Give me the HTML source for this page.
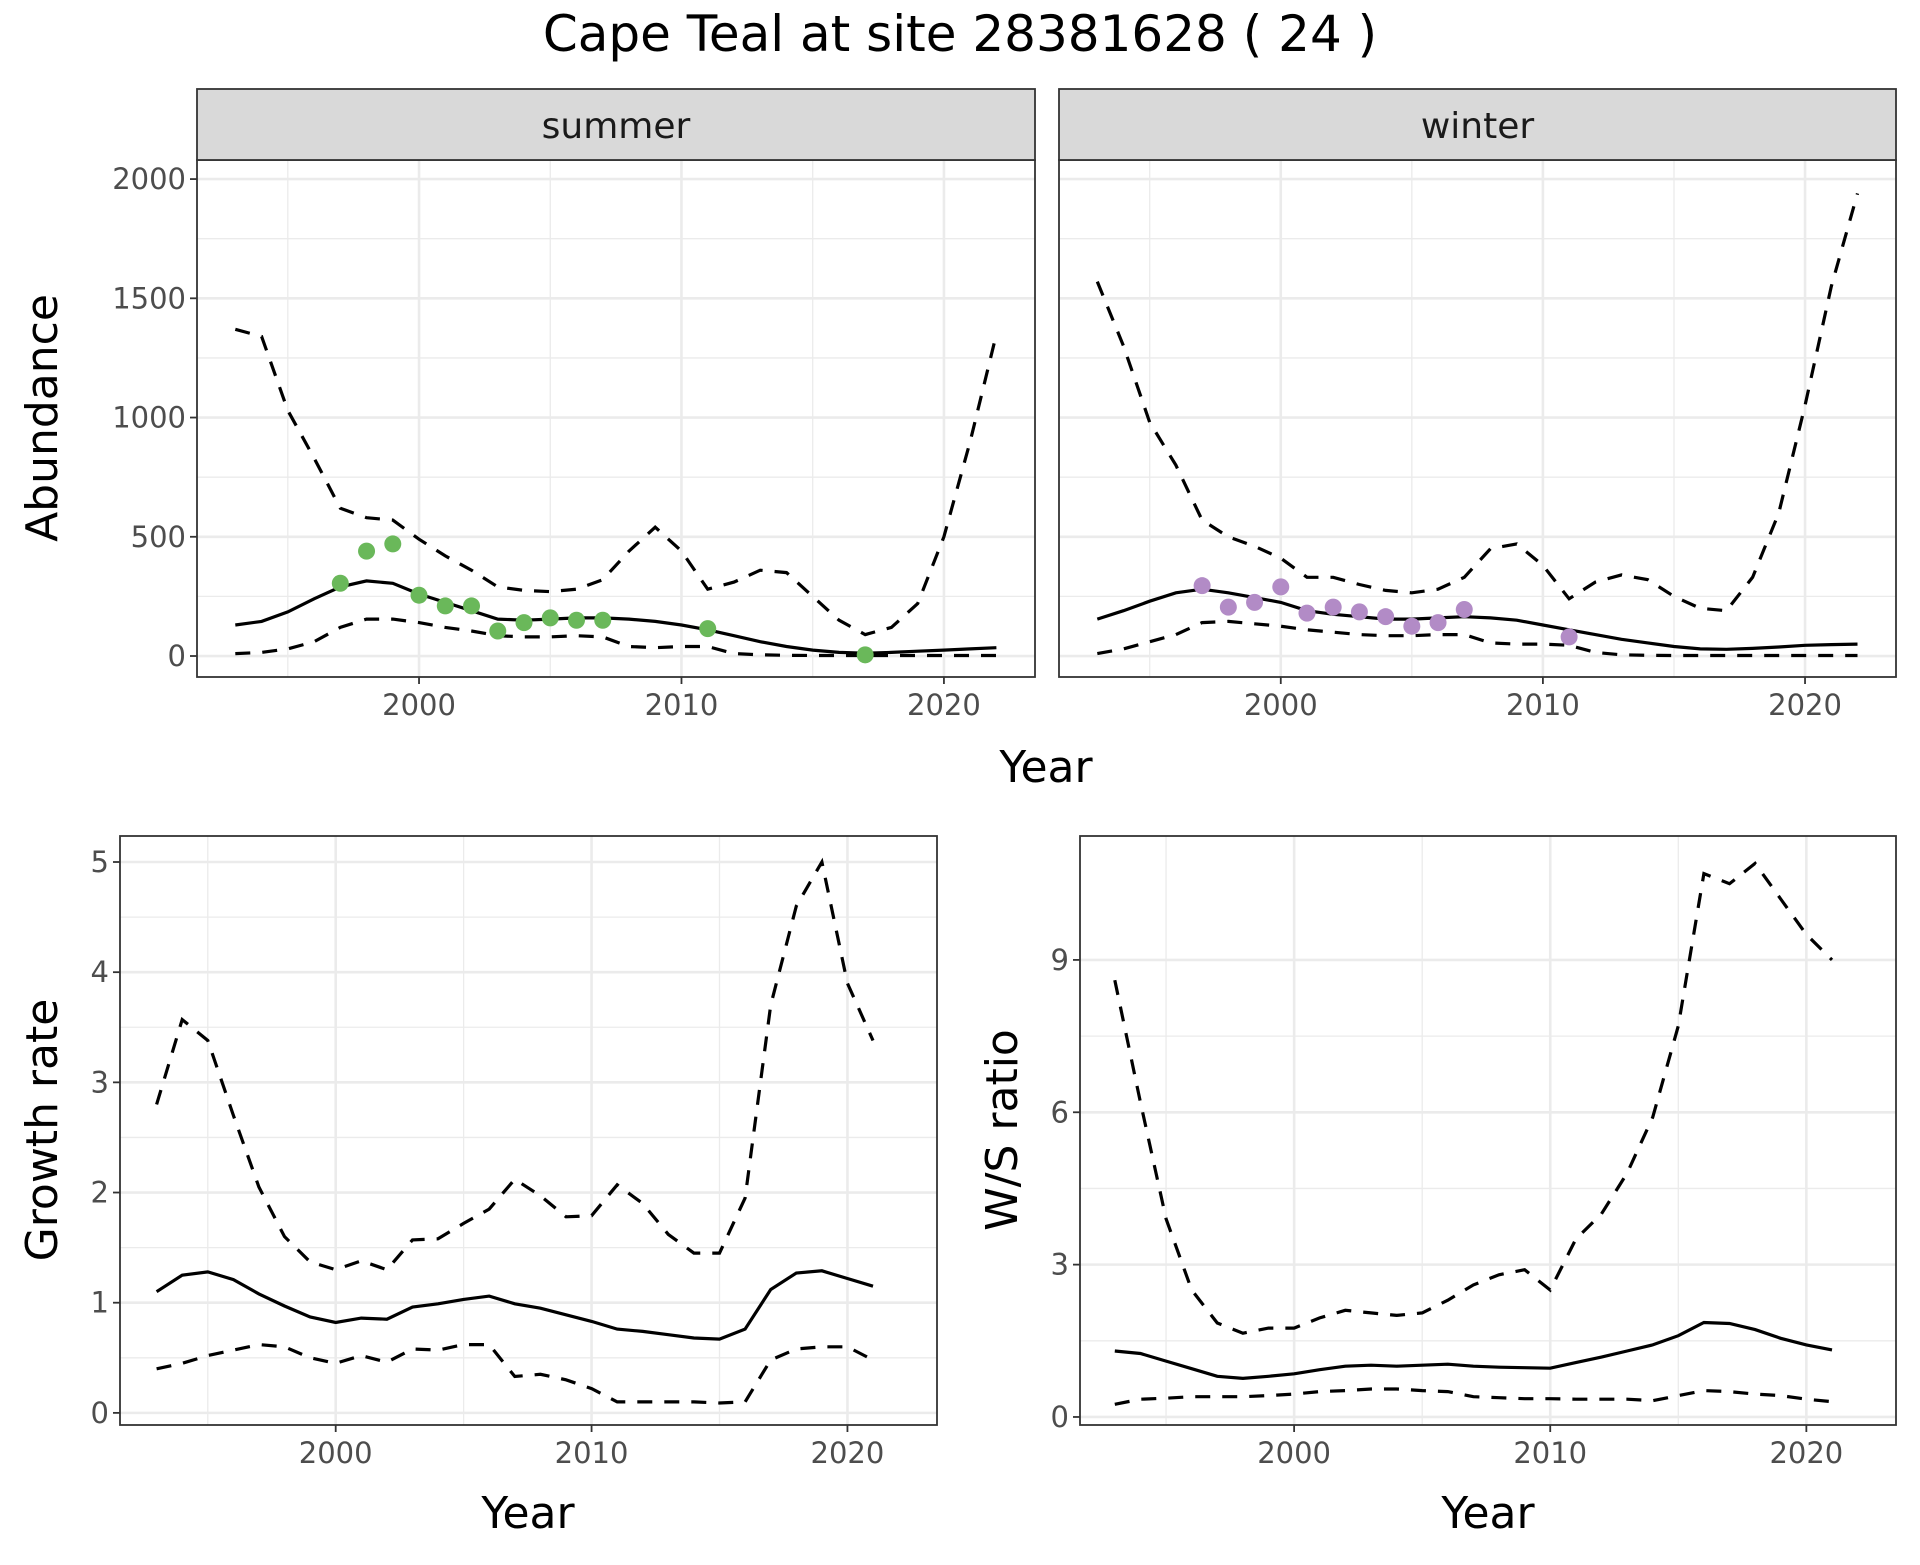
<!DOCTYPE html>
<html><head><meta charset="utf-8"><style>
body{margin:0;background:#fff;}
svg text{font-family:"DejaVu Sans","Liberation Sans",sans-serif;}
</style></head><body>
<svg id="chart" width="1920" height="1560" xmlns="http://www.w3.org/2000/svg">
<rect width="1920" height="1560" fill="#fff"/>
<text x="960" y="51" font-size="50" text-anchor="middle" fill="#000">Cape Teal at site 28381628 ( 24 )</text>
</svg>
<script>
const yearsA=[1993,1994,1995,1996,1997,1998,1999,2000,2001,2002,2003,2004,2005,2006,2007,2008,2009,2010,2011,2012,2013,2014,2015,2016,2017,2018,2019,2020,2021,2022];
const sumMean=[130,145,185,240,290,315,305,260,225,190,155,150,155,160,160,155,145,130,110,85,60,40,25,15,12,15,20,25,30,35];
const sumUpper=[1370,1340,1030,830,620,580,570,490,420,360,290,275,270,280,320,440,540,440,280,310,360,350,250,150,90,120,220,500,900,1350];
const sumLower=[10,15,30,60,120,155,155,140,120,105,85,80,80,85,80,40,35,40,40,10,5,3,2,2,2,2,2,2,2,2];
const sumPtYears=[1997,1998,1999,2000,2001,2002,2003,2004,2005,2006,2007,2011,2017];
const sumPtVals=[305,440,470,255,210,210,105,140,160,150,150,115,5];
const winMean=[155,190,230,265,280,265,245,225,190,175,165,155,155,160,165,160,150,130,110,90,70,55,40,30,28,32,38,45,48,50];
const winUpper=[1570,1300,980,800,570,500,460,410,330,330,300,275,265,280,330,450,470,380,240,310,340,320,250,200,190,330,600,1050,1550,1940];
const winLower=[10,30,60,90,140,145,135,125,110,100,90,85,85,90,90,55,50,50,45,15,5,3,2,2,2,2,2,2,2,2];
const winPtYears=[1997,1998,1999,2000,2001,2002,2003,2004,2005,2006,2007,2011];
const winPtVals=[295,205,225,290,180,205,185,165,125,140,195,80];
const yearsB=[1993,1994,1995,1996,1997,1998,1999,2000,2001,2002,2003,2004,2005,2006,2007,2008,2009,2010,2011,2012,2013,2014,2015,2016,2017,2018,2019,2020,2021];
const grMean=[1.1,1.25,1.28,1.21,1.08,0.97,0.87,0.82,0.86,0.85,0.96,0.99,1.03,1.06,0.99,0.95,0.89,0.83,0.76,0.74,0.71,0.68,0.67,0.76,1.12,1.27,1.29,1.22,1.15];
const grUpper=[2.8,3.57,3.38,2.7,2.05,1.6,1.37,1.3,1.38,1.3,1.57,1.58,1.72,1.85,2.12,1.97,1.78,1.79,2.07,1.9,1.62,1.45,1.45,1.95,3.7,4.6,5.0,3.9,3.38];
const grLower=[0.4,0.45,0.52,0.57,0.62,0.6,0.5,0.45,0.52,0.46,0.58,0.57,0.62,0.62,0.33,0.35,0.3,0.22,0.1,0.1,0.1,0.1,0.09,0.1,0.48,0.58,0.6,0.6,0.48];
const wsMean=[1.3,1.25,1.1,0.95,0.8,0.76,0.8,0.85,0.93,1.0,1.02,1.0,1.02,1.04,1.0,0.98,0.97,0.96,1.07,1.18,1.3,1.42,1.6,1.86,1.84,1.72,1.55,1.42,1.32];
const wsUpper=[8.6,6.2,3.9,2.5,1.85,1.65,1.75,1.75,1.95,2.1,2.05,2.0,2.05,2.3,2.6,2.8,2.9,2.5,3.5,4.0,4.8,5.9,7.7,10.7,10.5,10.9,10.2,9.5,9.0];
const wsLower=[0.25,0.35,0.37,0.4,0.4,0.4,0.42,0.45,0.5,0.52,0.55,0.55,0.52,0.5,0.4,0.38,0.36,0.36,0.35,0.35,0.35,0.32,0.42,0.52,0.5,0.45,0.42,0.35,0.3];
const xTicks=[2000,2010,2020];
const abTicks=[0,500,1000,1500,2000];
const grTicks=[0,1,2,3,4,5];
const wsTicks=[0,3,6,9];

const svg=document.getElementById('chart');
const NS='http://www.w3.org/2000/svg';
function mk(tag,attrs,parent){const e=document.createElementNS(NS,tag);for(const k in attrs)e.setAttribute(k,attrs[k]);(parent||svg).appendChild(e);return e;}
function txt(s,attrs,parent){const e=mk('text',attrs,parent);e.textContent=s;return e;}

function panel(o){
  const g=mk('g',{});
  
  
  const sx=v=>o.x0+(v-o.xmin)/(o.xmax-o.xmin)*(o.x1-o.x0);
  const sy=v=>o.y1-(v-o.ymin)/(o.ymax-o.ymin)*(o.y1-o.y0);
  for(let i=0;i<o.yt.length-1;i++){const v=(o.yt[i]+o.yt[i+1])/2;const l=mk('line',{x1:o.x0,x2:o.x1,y1:sy(v),y2:sy(v),stroke:'#ebebeb','stroke-width':1.3},g);}
  const xm=[1995,2005,2015];
  xm.forEach(v=>{const l=mk('line',{x1:sx(v),x2:sx(v),y1:o.y0,y2:o.y1,stroke:'#ebebeb','stroke-width':1.3},g);});
  o.yt.forEach(v=>{const l=mk('line',{x1:o.x0,x2:o.x1,y1:sy(v),y2:sy(v),stroke:'#ebebeb','stroke-width':2.6},g);});
  xTicks.forEach(v=>{const l=mk('line',{x1:sx(v),x2:sx(v),y1:o.y0,y2:o.y1,stroke:'#ebebeb','stroke-width':2.6},g);});
  const line=(ys,vals,dash,name)=>{const d=ys.map((y,i)=>(i?'L':'M')+sx(y).toFixed(1)+','+sy(vals[i]).toFixed(1)).join('');const p=mk('path',{d:d,fill:'none',stroke:'#000','stroke-width':3.2,'stroke-dasharray':dash?'15,12':'none'},g);};
  line(o.years,o.upper,true,'upper-ci-line');
  line(o.years,o.lower,true,'lower-ci-line');
  line(o.years,o.mean,false,'mean-line');
  if(o.py){o.py.forEach((y,i)=>{const c=mk('circle',{cx:sx(y),cy:sy(o.pv[i]),r:8.5,fill:o.pc},g);});}
  const b=mk('rect',{x:o.x0,y:o.y0,width:o.x1-o.x0,height:o.y1-o.y0,fill:'none',stroke:'#333','stroke-width':1.8},g);
  
  if(o.yLabels){o.yt.forEach(v=>{mk('line',{x1:o.x0-7,x2:o.x0,y1:sy(v),y2:sy(v),stroke:'#333','stroke-width':1.8},g);const t=txt(String(v),{x:o.x0-11,y:sy(v)+10,'font-size':29,'text-anchor':'end',fill:'#4d4d4d'},g);});}
  xTicks.forEach(v=>{mk('line',{x1:sx(v),x2:sx(v),y1:o.y1,y2:o.y1+7,stroke:'#333','stroke-width':1.8},g);const t=txt(String(v),{x:sx(v),y:o.y1+38,'font-size':29,'text-anchor':'middle',fill:'#4d4d4d'},g);});
  if(o.strip){const s=mk('rect',{x:o.x0,y:89,width:o.x1-o.x0,height:71,fill:'#d9d9d9',stroke:'#333','stroke-width':1.8},g);const t=txt(o.strip,{x:(o.x0+o.x1)/2,y:138,'font-size':36,'text-anchor':'middle',fill:'#1a1a1a'},g);}
  return sx;
}
panel({name:'summer-panel',strip:'summer',x0:197,x1:1035,y0:160,y1:677,xmin:1991.54,xmax:2023.47,ymin:-88,ymax:2080,yt:abTicks,yLabels:true,years:yearsA,mean:sumMean,upper:sumUpper,lower:sumLower,py:sumPtYears,pv:sumPtVals,pc:'#6ab85a'});
panel({name:'winter-panel',strip:'winter',x0:1059,x1:1896,y0:160,y1:677,xmin:1991.54,xmax:2023.47,ymin:-88,ymax:2080,yt:abTicks,yLabels:false,years:yearsA,mean:winMean,upper:winUpper,lower:winLower,py:winPtYears,pv:winPtVals,pc:'#b28bc6'});
panel({name:'growth-rate-panel',x0:120,x1:937,y0:836,y1:1425,xmin:1991.57,xmax:2023.5,ymin:-0.11,ymax:5.236,yt:grTicks,yLabels:true,years:yearsB,mean:grMean,upper:grUpper,lower:grLower});
panel({name:'ws-ratio-panel',x0:1080,x1:1896,y0:836,y1:1425,xmin:1991.64,xmax:2023.5,ymin:-0.158,ymax:11.44,yt:wsTicks,yLabels:true,years:yearsB,mean:wsMean,upper:wsUpper,lower:wsLower});
const labs=[['x-axis-title','Year',1046,782,0],['x-axis-title','Year',528,1528,0],['x-axis-title','Year',1488,1528,0],['y-axis-title','Abundance',57,418,1],['y-axis-title','Growth rate',57,1130,1],['y-axis-title','W/S ratio',1017,1130,1]];
labs.forEach(l=>{const t=txt(l[1],{x:l[2],y:l[3],'font-size':44,'text-anchor':'middle',fill:'#000',transform:l[4]?`rotate(-90 ${l[2]} ${l[3]})`:''});

});
</script>
</body></html>
